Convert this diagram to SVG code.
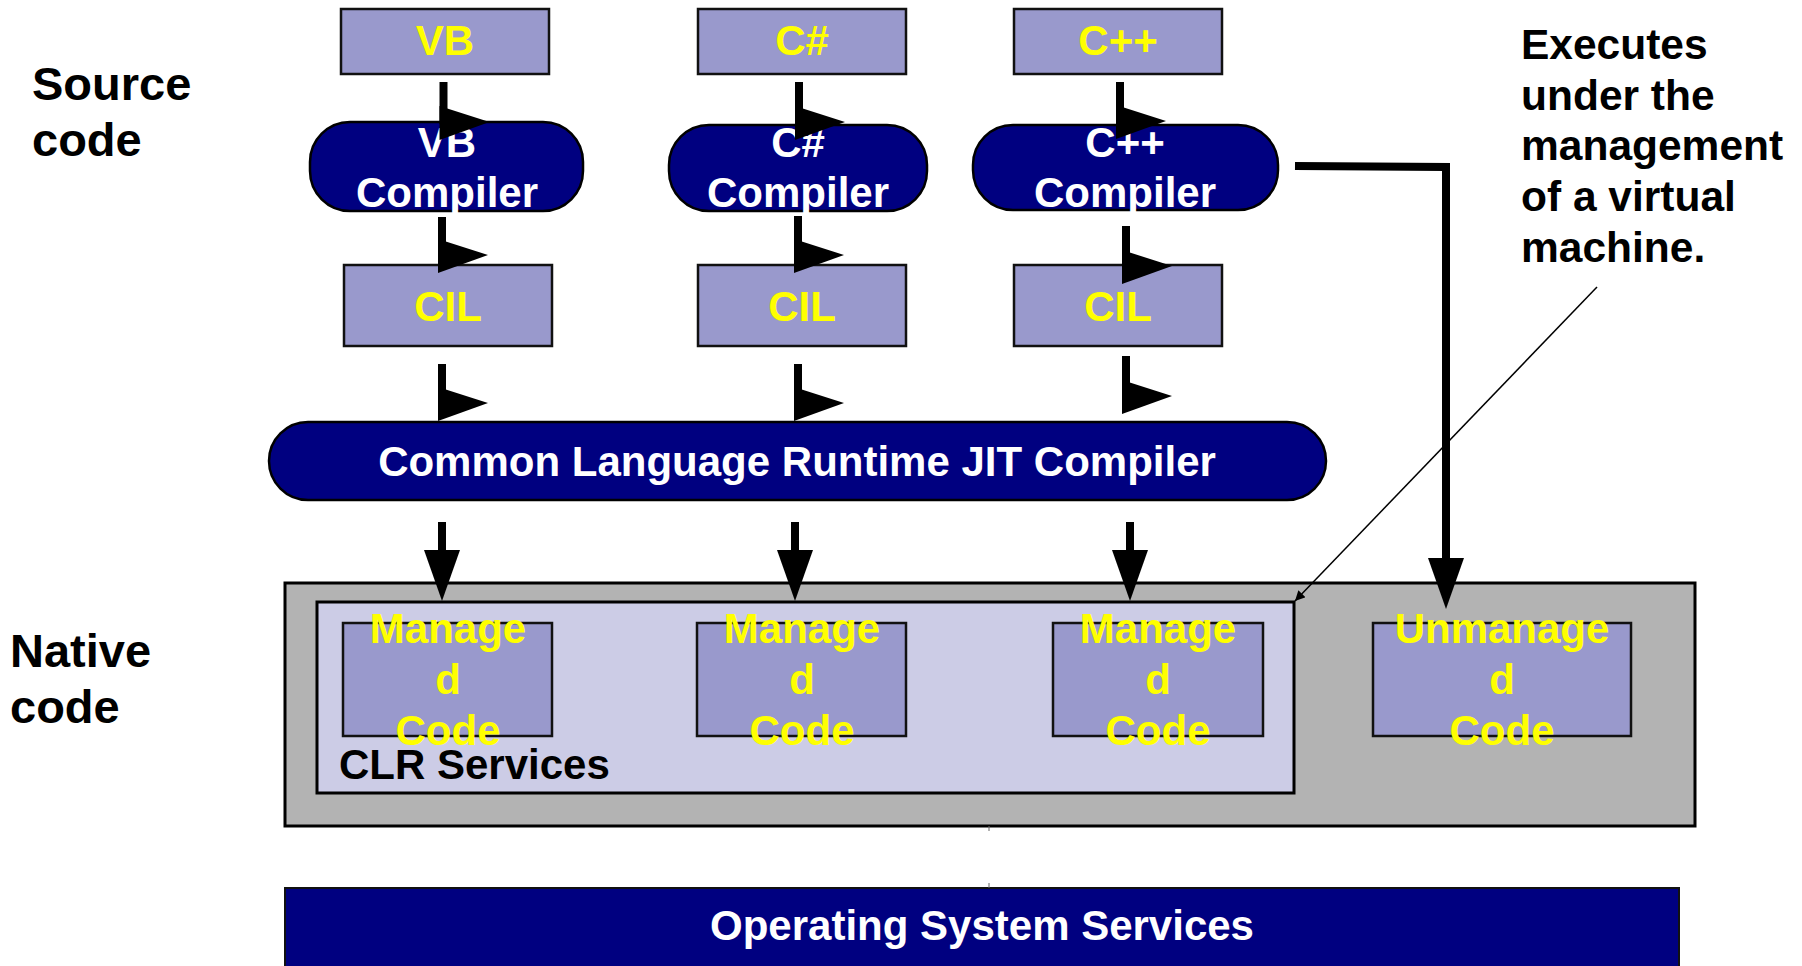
<svg xmlns="http://www.w3.org/2000/svg" width="1802" height="966" viewBox="0 0 1802 966">
<style>
text{font-family:"Liberation Sans",Arial,sans-serif;font-weight:bold;}
.box{fill:#9999CC;stroke:#111;stroke-width:2.5;}
.pill{fill:#000080;stroke:#000;stroke-width:2.5;}
.yl{fill:#FFFF00;font-size:42px;text-anchor:middle;}
.wt{fill:#FFFFFF;font-size:42px;text-anchor:middle;}
.lbl{fill:#000;font-size:47px;}
.note{fill:#000;font-size:42.5px;}
.ln{stroke:#000;stroke-width:8;fill:none;}
.hd{fill:#000;}
</style>
<defs>
<polygon id="rh" points="-4,0 46,16 -4,34"/>
<polygon id="dh" points="-18,0 18,0 0,51"/>
<marker id="sm" viewBox="0 0 10 10" refX="10" refY="5" markerWidth="10" markerHeight="10" markerUnits="userSpaceOnUse" orient="auto"><path d="M0,0 L10,5 L0,10 z" fill="#000"/></marker>
</defs>

<g id="labels">
<text class="lbl" x="32" y="100">Source</text>
<text class="lbl" x="32" y="156">code</text>
<text class="lbl" x="10" y="667">Native</text>
<text class="lbl" x="10" y="723">code</text>
</g>

<g id="note">
<text class="note" x="1521" y="59">Executes</text>
<text class="note" x="1521" y="110">under the</text>
<text class="note" x="1521" y="160">management</text>
<text class="note" x="1521" y="211">of a virtual</text>
<text class="note" x="1521" y="262">machine.</text>
</g>

<g id="native">
<rect x="285" y="583" width="1410" height="243" fill="#B3B3B3" stroke="#000" stroke-width="3"/>
</g>
<g id="clr-services">
<rect x="317" y="602" width="977" height="191" fill="#CCCCE6" stroke="#000" stroke-width="3"/>
<text x="339" y="779" fill="#000" font-size="42">CLR Services</text>
</g>

<g id="vb"><rect class="box" x="341" y="9" width="208" height="65"/><text class="yl" x="445" y="55">VB</text></g>
<g id="cs"><rect class="box" x="698" y="9" width="208" height="65"/><text class="yl" x="802" y="55">C#</text></g>
<g id="cpp"><rect class="box" x="1014" y="9" width="208" height="65"/><text class="yl" x="1118" y="55">C++</text></g>

<g id="vb-compiler"><rect class="pill" x="310" y="122" width="273" height="89" rx="40" ry="40"/><text class="wt" x="447" y="157">VB</text><text class="wt" x="447" y="207">Compiler</text></g>
<g id="cs-compiler"><rect class="pill" x="669" y="125" width="258" height="86" rx="40" ry="40"/><text class="wt" x="798" y="157">C#</text><text class="wt" x="798" y="207">Compiler</text></g>
<g id="cpp-compiler"><rect class="pill" x="973" y="125" width="305" height="85" rx="40" ry="40"/><text class="wt" x="1125" y="157">C++</text><text class="wt" x="1125" y="207">Compiler</text></g>

<g id="vb-cil"><rect class="box" x="344" y="265" width="208" height="81"/><text class="yl" x="448" y="321">CIL</text></g>
<g id="cs-cil"><rect class="box" x="698" y="265" width="208" height="81"/><text class="yl" x="802" y="321">CIL</text></g>
<g id="cpp-cil"><rect class="box" x="1014" y="265" width="208" height="81"/><text class="yl" x="1118" y="321">CIL</text></g>

<g id="jit"><rect class="pill" x="269" y="422" width="1057" height="78" rx="39" ry="39"/><text class="wt" x="797" y="476" font-size="42.5">Common Language Runtime JIT Compiler</text></g>

<g id="managed1"><rect class="box" x="343" y="623" width="209" height="113"/><text class="yl" x="448" y="643">Manage</text><text class="yl" x="448" y="694">d</text><text class="yl" x="448" y="745">Code</text></g>
<g id="managed2"><rect class="box" x="697" y="623" width="209" height="113"/><text class="yl" x="802" y="643">Manage</text><text class="yl" x="802" y="694">d</text><text class="yl" x="802" y="745">Code</text></g>
<g id="managed3"><rect class="box" x="1053" y="623" width="210" height="113"/><text class="yl" x="1158" y="643">Manage</text><text class="yl" x="1158" y="694">d</text><text class="yl" x="1158" y="745">Code</text></g>
<g id="unmanaged"><rect class="box" x="1373" y="623" width="258" height="113"/><text class="yl" x="1502" y="643">Unmanage</text><text class="yl" x="1502" y="694">d</text><text class="yl" x="1502" y="745">Code</text></g>

<g id="os"><rect x="285" y="888" width="1394" height="90" fill="#000080" stroke="#111" stroke-width="2"/><text class="wt" x="982" y="940">Operating System Services</text></g>

<g id="connectors">
<line class="ln" x1="443.5" y1="82" x2="443.5" y2="124"/><use href="#rh" x="443.5" y="106" class="hd"/>
<line class="ln" x1="799" y1="82" x2="799" y2="124"/><use href="#rh" x="799" y="106" class="hd"/>
<line class="ln" x1="1120" y1="82" x2="1120" y2="124"/><use href="#rh" x="1120" y="105" class="hd"/>

<line class="ln" x1="442" y1="217" x2="442" y2="258"/><use href="#rh" x="442" y="239" class="hd"/>
<line class="ln" x1="798" y1="216" x2="798" y2="258"/><use href="#rh" x="798" y="239" class="hd"/>
<line class="ln" x1="1126" y1="226" x2="1126" y2="268"/><use href="#rh" x="1126" y="250" class="hd"/>

<line class="ln" x1="442" y1="364" x2="442" y2="405"/><use href="#rh" x="442" y="387" class="hd"/>
<line class="ln" x1="798" y1="364" x2="798" y2="405"/><use href="#rh" x="798" y="387" class="hd"/>
<line class="ln" x1="1126" y1="356" x2="1126" y2="398"/><use href="#rh" x="1126" y="380" class="hd"/>

<line class="ln" x1="442" y1="522" x2="442" y2="555"/><use href="#dh" x="442" y="550" class="hd"/>
<line class="ln" x1="795" y1="522" x2="795" y2="555"/><use href="#dh" x="795" y="550" class="hd"/>
<line class="ln" x1="1130" y1="522" x2="1130" y2="555"/><use href="#dh" x="1130" y="550" class="hd"/>

<path class="ln" d="M1295 166 L1446 167 L1446 565"/><use href="#dh" x="1446" y="558" class="hd"/>

<line x1="1597" y1="287" x2="1295" y2="601" stroke="#000" stroke-width="1.5" marker-end="url(#sm)"/>
<line x1="989" y1="826" x2="989" y2="831" stroke="#666" stroke-width="1"/>
<line x1="989" y1="883" x2="989" y2="888" stroke="#666" stroke-width="1"/>
</g>
</svg>
